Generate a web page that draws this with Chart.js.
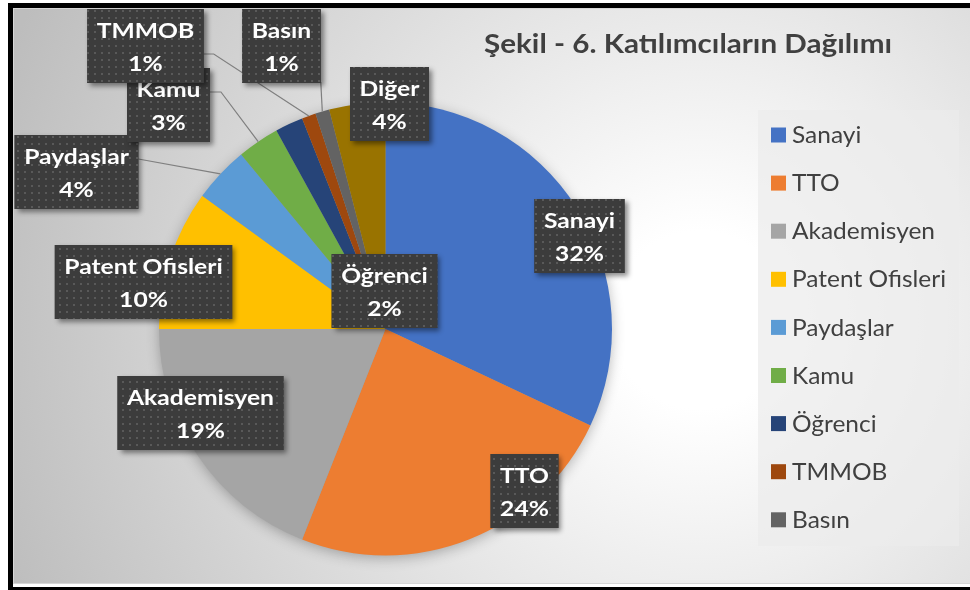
<!DOCTYPE html>
<html>
<head>
<meta charset="utf-8">
<script src="https://cdn.jsdelivr.net/npm/chart.js@4.4.1/dist/chart.umd.min.js"></script>
<style>
  html, body { margin: 0; padding: 0; background: #fff; }
  #kutu { width: 970px; height: 590px; }
</style>
</head>
<body>
<div id="kutu"><canvas id="pieChart" width="970" height="590"></canvas></div>
<script>
const baslik = "Şekil - 6. Katılımcıların Dağılımı";
const kategoriler = ["Sanayi", "TTO", "Akademisyen", "Patent Ofisleri", "Paydaşlar", "Kamu", "Öğrenci", "TMMOB", "Basın", "Diğer"];
const yuzdeler = [32, 24, 19, 10, 4, 3, 2, 1, 1, 4];
const renkler = ["#4472C4", "#ED7D31", "#A5A5A5", "#FFC000", "#5B9BD5", "#70AD47", "#264478", "#9E480E", "#636363", "#997300"];

// etiket kutularinin pasta merkezine gore yeri (piksel), cizgi = bag cizgisi
const etiketYeri = [
    { dx: 194, dy: -93 },
    { dx: 139, dy: 162 },
    { dx: -185, dy: 84 },
    { dx: -242, dy: -47 },
    { dx: -309, dy: -157, cizgi: { dy: -13, dirsek: 0 } },
    { dx: -217, dy: -224, cizgi: { dy: -13, dirsek: 11 } },
    { dx: -1, dy: -38 },
    { dx: -240, dy: -283, cizgi: { dy: 8, dirsek: 10 } },
    { dx: -104, dy: -283, cizgi: { dy: 36, dirsek: 0 } },
    { dx: 4, dy: -225 }
];

const aile = "Lato, 'Open Sans', sans-serif";
const ctx = document.getElementById('pieChart').getContext('2d');

// buyuk harf yuksekligi ve ornek genislige gore punto + yatay sikistirma
function yaziAyari(ornek, kalinlik, harfBoyu, hedefGenislik) {
    const punto = harfBoyu / 0.7165;
    ctx.font = `${kalinlik} ${punto}px ${aile}`;
    const sx = hedefGenislik / ctx.measureText(ornek).width;
    return { font: ctx.font, sx };
}
const baslikYazi = yaziAyari(baslik, 'bold', 19.5, 408);
const lejantYazi = yaziAyari("Akademisyen", 'normal', 16.2, 143);
const etiketYazi = yaziAyari("Akademisyen", 'bold', 15.2, 147);

function yaz(c, ayar, metin, x, y) {
    c.save();
    c.font = ayar.font;
    c.translate(x, y);
    c.scale(ayar.sx, 1);
    c.fillText(metin, 0, 0);
    c.restore();
}
function olc(c, ayar, metin) {
    c.font = ayar.font;
    return c.measureText(metin).width * ayar.sx;
}

// noktali desen
const desenCanvas = document.createElement('canvas');
desenCanvas.width = 7;
desenCanvas.height = 7;
let dc = desenCanvas.getContext('2d');
dc.fillStyle = '#3c3c3c';
dc.fillRect(0, 0, 7, 7);
dc.fillStyle = '#595959';
dc.fillRect(3, 3, 2, 2);

const arkaPlan = {
    id: 'arkaPlan',
    beforeDraw(chart) {
        const c = chart.ctx, W = chart.width, H = chart.height;
        c.save();
        c.fillStyle = '#fff';
        c.fillRect(0, 0, W, H);
        c.fillStyle = '#000';
        c.fillRect(8, 3, W - 8, 5);
        c.fillRect(8, 3, 5, H - 3);
        c.fillRect(8, 587, W - 8, 3);
        const g = c.createRadialGradient(700, 320, 0, 700, 320, 740);
        g.addColorStop(0, '#ffffff');
        g.addColorStop(0.12, '#ffffff');
        g.addColorStop(1, '#bdbdbd');
        c.fillStyle = g;
        c.fillRect(13, 8, W - 13, 576);
        c.strokeStyle = '#d6d6d6';
        c.lineWidth = 1;
        c.strokeRect(13.5, 8.5, W - 13, 575);

        c.fillStyle = '#404040';
        c.textAlign = 'center';
        c.textBaseline = 'alphabetic';
        yaz(c, baslikYazi, baslik, 688, 53);
        c.restore();
    },
    beforeDatasetsDraw(chart) {
        const a = chart.getDatasetMeta(0).data[0];
        const c = chart.ctx;
        c.save();
        c.shadowColor = 'rgba(0,0,0,0.3)';
        c.shadowBlur = 14;
        c.shadowOffsetY = 3;
        c.fillStyle = '#999';
        c.beginPath();
        c.arc(a.x, a.y, a.outerRadius - 1, 0, Math.PI * 2);
        c.fill();
        c.restore();
    },
    afterDatasetsDraw(chart) {
        const c = chart.ctx;
        const meta = chart.getDatasetMeta(0);
        const veri = chart.data.datasets[0].data;
        const toplam = veri.reduce((s, v) => s + v, 0);
        c.save();

        // kutu olculeri
        const kutular = meta.data.map((a, i) => {
            const ad = chart.data.labels[i];
            const yz = Math.round(veri[i] * 100 / toplam) + '%';
            const w = Math.max(olc(c, etiketYazi, ad), olc(c, etiketYazi, yz)) + 19;
            const h = 74;
            const cx = a.x + etiketYeri[i].dx, cy = a.y + etiketYeri[i].dy;
            return { ad, yz, x: cx - w / 2, y: cy - h / 2, w, h, cx, cy };
        });

        // bag cizgileri
        c.strokeStyle = '#7f7f7f';
        c.lineWidth = 1.2;
        meta.data.forEach((a, i) => {
            const cz = etiketYeri[i].cizgi;
            if (!cz) return;
            const orta = (a.startAngle + a.endAngle) / 2;
            const px = a.x + Math.cos(orta) * a.outerRadius;
            const py = a.y + Math.sin(orta) * a.outerRadius;
            const k = kutular[i];
            const bx = k.x + k.w, by = k.cy + cz.dy;
            c.beginPath();
            c.moveTo(bx, by);
            if (cz.dirsek) c.lineTo(bx + cz.dirsek, by);
            c.lineTo(px, py);
            c.stroke();
        });

        // kutular
        const desen = c.createPattern(desenCanvas, 'repeat');
        kutular.forEach((k) => {
            c.save();
            c.shadowColor = 'rgba(0,0,0,0.45)';
            c.shadowBlur = 5;
            c.shadowOffsetX = 3;
            c.shadowOffsetY = 3;
            c.fillStyle = '#3c3c3c';
            c.fillRect(k.x, k.y, k.w, k.h);
            c.restore();
            c.fillStyle = desen;
            c.fillRect(k.x, k.y, k.w, k.h);
            c.fillStyle = '#ffffff';
            c.textAlign = 'center';
            c.textBaseline = 'alphabetic';
            yaz(c, etiketYazi, k.ad, k.cx, k.y + 29);
            yaz(c, etiketYazi, k.yz, k.cx, k.y + 62);
        });

        // lejant
        const lx = 758, ly = 110, lw = 201, lh = 436;
        c.fillStyle = 'rgba(236,236,236,0.72)';
        c.fillRect(lx, ly, lw, lh);
        c.textAlign = 'left';
        c.textBaseline = 'alphabetic';
        chart.data.labels.forEach((ad, i) => {
            const yy = 135 + i * 48.1;
            if (yy + 12 > ly + lh) return;
            c.fillStyle = renkler[i];
            c.fillRect(771, yy - 7.5, 15, 15);
            c.fillStyle = '#404040';
            yaz(c, lejantYazi, ad, 792, yy + 8.1);
        });
        c.restore();
    }
};

let pieChart = new Chart(ctx, {
    type: 'pie',
    data: {
        labels: kategoriler,
        datasets: [{
            data: yuzdeler,
            backgroundColor: renkler,
            borderWidth: 0
        }]
    },
    options: {
        responsive: false,
        animation: false,
        layout: {
            padding: { left: 159, right: 358, top: 102, bottom: 34 }
        },
        plugins: {
            legend: { display: false },
            tooltip: { enabled: false }
        }
    },
    plugins: [arkaPlan]
});
</script>
</body>
</html>
